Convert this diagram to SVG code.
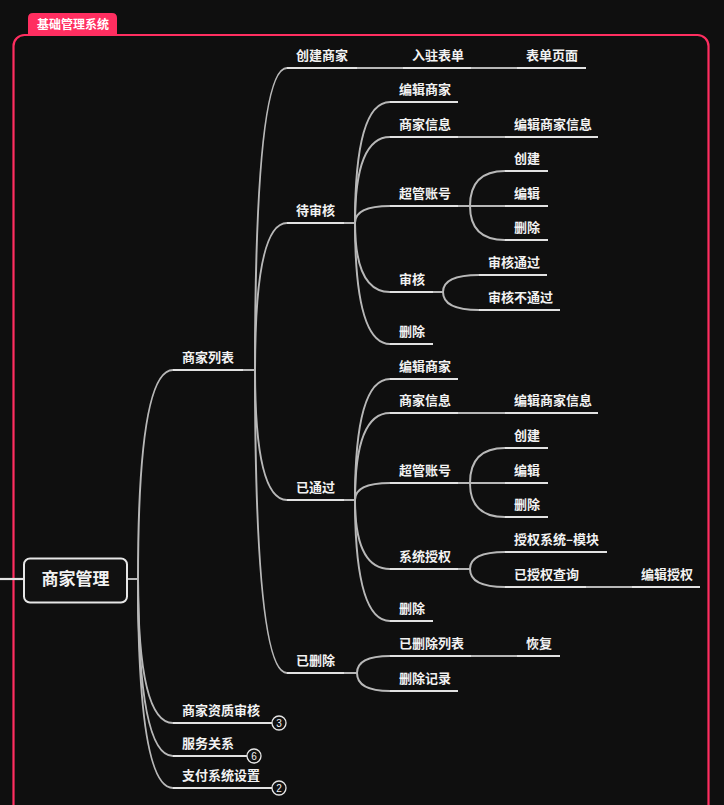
<svg xmlns="http://www.w3.org/2000/svg" width="724" height="805" viewBox="0 0 724 805">
<style>
.bg{fill:#0f0f0f}
.frame{fill:none;stroke:#ff2e60;stroke-width:2.2}
.tab{fill:#ff2e60}
.tabt{font-family:"Noto Sans CJK SC","Noto Sans",sans-serif;font-weight:700;font-size:12px;fill:#ffffff}
.t{font-family:"Noto Sans CJK SC","Noto Sans",sans-serif;font-weight:700;font-size:13px;fill:#f2f2f2}
.rt{font-family:"Noto Sans CJK SC","Noto Sans",sans-serif;font-weight:700;font-size:17px;fill:#f2f2f2}
.u{stroke:#e2e2e2;stroke-width:2.2;fill:none}
.c{stroke:#b8b8b8;stroke-width:2;fill:none}
.b{fill:#111111;stroke:#e6e6e6;stroke-width:1.3}
.bt{font-family:"Liberation Sans",Arial,sans-serif;font-size:10px;fill:#f2f2f2;text-anchor:middle}
</style>
<rect class="bg" x="0" y="0" width="724" height="805"/>
<g id="frame">
<rect class="frame" x="13.5" y="35" width="695" height="800" rx="11"/>
<path class="tab" d="M28 35 V18 Q28 13 33 13 H112 Q117 13 117 18 V35 Z"/>
<text class="tabt" x="37" y="29">基础管理系统</text>
</g>
<g id="connectors">
<line class="u" x1="0" y1="579" x2="24" y2="579"/>
<line class="c" x1="127" y1="579" x2="138" y2="579"/>
<path class="c" d="M138 579 Q138 370 173 370"/>
<path class="c" d="M138 579 Q138 723 173 723"/>
<path class="c" d="M138 579 Q138 756 173 756"/>
<path class="c" d="M138 579 Q138 788 173 788"/>
<line class="c" x1="243" y1="370" x2="255" y2="370"/>
<path class="c" d="M255 370 Q255 68 287 68"/>
<path class="c" d="M255 370 Q255 223 287 223"/>
<path class="c" d="M255 370 Q255 500 287 500"/>
<path class="c" d="M255 370 Q255 673 287 673"/>
<line class="c" x1="357" y1="68" x2="403" y2="68"/>
<line class="c" x1="471" y1="68" x2="517" y2="68"/>
<line class="c" x1="344" y1="223" x2="355" y2="223"/>
<path class="c" d="M355 223 Q355 102 390 102"/>
<path class="c" d="M355 223 Q355 137 390 137"/>
<path class="c" d="M355 223 Q355 206 390 206"/>
<path class="c" d="M355 223 Q355 292 390 292"/>
<path class="c" d="M355 223 Q355 344 390 344"/>
<line class="c" x1="458" y1="137" x2="505" y2="137"/>
<line class="c" x1="458" y1="206" x2="470" y2="206"/>
<path class="c" d="M470 206 Q470 171 505 171"/>
<line class="c" x1="470" y1="206" x2="505" y2="206"/>
<path class="c" d="M470 206 Q470 240 505 240"/>
<line class="c" x1="433" y1="292" x2="443" y2="292"/>
<path class="c" d="M443 292 Q443 275 479 275"/>
<path class="c" d="M443 292 Q443 310 479 310"/>
<line class="c" x1="344" y1="500" x2="355" y2="500"/>
<path class="c" d="M355 500 Q355 379 390 379"/>
<path class="c" d="M355 500 Q355 413 390 413"/>
<path class="c" d="M355 500 Q355 483 390 483"/>
<path class="c" d="M355 500 Q355 569 390 569"/>
<path class="c" d="M355 500 Q355 621 390 621"/>
<line class="c" x1="458" y1="413" x2="505" y2="413"/>
<line class="c" x1="458" y1="483" x2="470" y2="483"/>
<path class="c" d="M470 483 Q470 448 505 448"/>
<line class="c" x1="470" y1="483" x2="505" y2="483"/>
<path class="c" d="M470 483 Q470 517 505 517"/>
<line class="c" x1="458" y1="569" x2="470" y2="569"/>
<path class="c" d="M470 569 Q470 552 505 552"/>
<path class="c" d="M470 569 Q470 587 505 587"/>
<line class="c" x1="586" y1="587" x2="632" y2="587"/>
<line class="c" x1="344" y1="673" x2="357" y2="673"/>
<path class="c" d="M357 673 Q357 656 390 656"/>
<path class="c" d="M357 673 Q357 691 390 691"/>
<line class="c" x1="471" y1="656" x2="517" y2="656"/>
</g>
<g id="root">
<rect x="24" y="558.5" width="103" height="44" rx="6" fill="#111111" stroke="#e6e6e6" stroke-width="2"/>
<text class="rt" x="75.5" y="585" text-anchor="middle">商家管理</text>
</g>
<g id="n-list"><line class="u" x1="173" y1="370" x2="243" y2="370"/><text class="t" x="182" y="362">商家列表</text></g>
<g id="n-qual"><line class="u" x1="173" y1="723" x2="272" y2="723"/><text class="t" x="182" y="715">商家资质审核</text><circle class="b" cx="279" cy="723" r="7"/><text class="bt" x="279" y="726.5">3</text></g>
<g id="n-service"><line class="u" x1="173" y1="756" x2="247" y2="756"/><text class="t" x="182" y="748">服务关系</text><circle class="b" cx="254" cy="756" r="7"/><text class="bt" x="254" y="759.5">6</text></g>
<g id="n-pay"><line class="u" x1="173" y1="788" x2="272" y2="788"/><text class="t" x="182" y="780">支付系统设置</text><circle class="b" cx="279" cy="788" r="7"/><text class="bt" x="279" y="791.5">2</text></g>
<g id="n-create"><line class="u" x1="287" y1="68" x2="357" y2="68"/><text class="t" x="296" y="60">创建商家</text></g>
<g id="n-form"><line class="u" x1="403" y1="68" x2="471" y2="68"/><text class="t" x="412" y="60">入驻表单</text></g>
<g id="n-formpage"><line class="u" x1="517" y1="68" x2="586" y2="68"/><text class="t" x="526" y="60">表单页面</text></g>
<g id="n-pending"><line class="u" x1="287" y1="223" x2="344" y2="223"/><text class="t" x="296" y="215">待审核</text></g>
<g id="n-p-edit"><line class="u" x1="390" y1="102" x2="458" y2="102"/><text class="t" x="399" y="94">编辑商家</text></g>
<g id="n-p-info"><line class="u" x1="390" y1="137" x2="458" y2="137"/><text class="t" x="399" y="129">商家信息</text></g>
<g id="n-p-info-edit"><line class="u" x1="505" y1="137" x2="598" y2="137"/><text class="t" x="514" y="129">编辑商家信息</text></g>
<g id="n-p-admin"><line class="u" x1="390" y1="206" x2="458" y2="206"/><text class="t" x="399" y="198">超管账号</text></g>
<g id="n-p-admin-c"><line class="u" x1="505" y1="171" x2="548" y2="171"/><text class="t" x="514" y="163">创建</text></g>
<g id="n-p-admin-e"><line class="u" x1="505" y1="206" x2="548" y2="206"/><text class="t" x="514" y="198">编辑</text></g>
<g id="n-p-admin-d"><line class="u" x1="505" y1="240" x2="548" y2="240"/><text class="t" x="514" y="232">删除</text></g>
<g id="n-p-audit"><line class="u" x1="390" y1="292" x2="433" y2="292"/><text class="t" x="399" y="284">审核</text></g>
<g id="n-p-audit-ok"><line class="u" x1="479" y1="275" x2="547" y2="275"/><text class="t" x="488" y="267">审核通过</text></g>
<g id="n-p-audit-no"><line class="u" x1="479" y1="310" x2="560" y2="310"/><text class="t" x="488" y="302">审核不通过</text></g>
<g id="n-p-del"><line class="u" x1="390" y1="344" x2="433" y2="344"/><text class="t" x="399" y="336">删除</text></g>
<g id="n-passed"><line class="u" x1="287" y1="500" x2="344" y2="500"/><text class="t" x="296" y="492">已通过</text></g>
<g id="n-a-edit"><line class="u" x1="390" y1="379" x2="458" y2="379"/><text class="t" x="399" y="371">编辑商家</text></g>
<g id="n-a-info"><line class="u" x1="390" y1="413" x2="458" y2="413"/><text class="t" x="399" y="405">商家信息</text></g>
<g id="n-a-info-edit"><line class="u" x1="505" y1="413" x2="598" y2="413"/><text class="t" x="514" y="405">编辑商家信息</text></g>
<g id="n-a-admin"><line class="u" x1="390" y1="483" x2="458" y2="483"/><text class="t" x="399" y="475">超管账号</text></g>
<g id="n-a-admin-c"><line class="u" x1="505" y1="448" x2="548" y2="448"/><text class="t" x="514" y="440">创建</text></g>
<g id="n-a-admin-e"><line class="u" x1="505" y1="483" x2="548" y2="483"/><text class="t" x="514" y="475">编辑</text></g>
<g id="n-a-admin-d"><line class="u" x1="505" y1="517" x2="548" y2="517"/><text class="t" x="514" y="509">删除</text></g>
<g id="n-a-auth"><line class="u" x1="390" y1="569" x2="458" y2="569"/><text class="t" x="399" y="561">系统授权</text></g>
<g id="n-a-auth-mod"><line class="u" x1="505" y1="552" x2="607" y2="552"/><text class="t" x="514" y="544">授权系统–模块</text></g>
<g id="n-a-auth-q"><line class="u" x1="505" y1="587" x2="586" y2="587"/><text class="t" x="514" y="579">已授权查询</text></g>
<g id="n-a-auth-edit"><line class="u" x1="632" y1="587" x2="700" y2="587"/><text class="t" x="641" y="579">编辑授权</text></g>
<g id="n-a-del"><line class="u" x1="390" y1="621" x2="433" y2="621"/><text class="t" x="399" y="613">删除</text></g>
<g id="n-deleted"><line class="u" x1="287" y1="673" x2="344" y2="673"/><text class="t" x="296" y="665">已删除</text></g>
<g id="n-d-list"><line class="u" x1="390" y1="656" x2="471" y2="656"/><text class="t" x="399" y="648">已删除列表</text></g>
<g id="n-d-restore"><line class="u" x1="517" y1="656" x2="560" y2="656"/><text class="t" x="526" y="648">恢复</text></g>
<g id="n-d-log"><line class="u" x1="390" y1="691" x2="458" y2="691"/><text class="t" x="399" y="683">删除记录</text></g>
</svg>
